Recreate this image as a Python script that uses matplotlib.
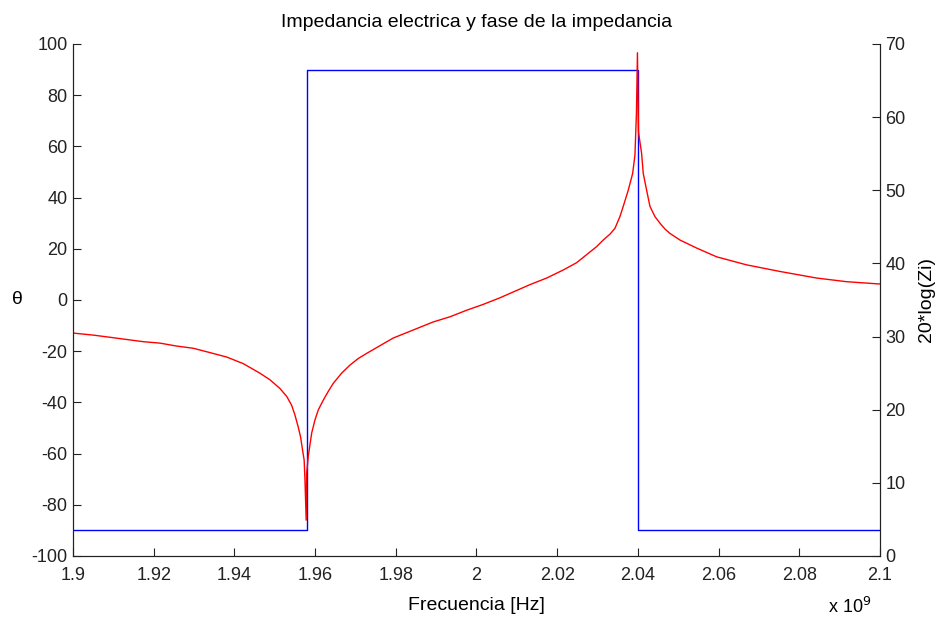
import matplotlib.pyplot as plt
import matplotlib.ticker as mticker

# frequency in units of 1e9 Hz, magnitude in dB
freq_ghz = [1.9000, 1.9005, 1.9050, 1.9092, 1.9133, 1.9174, 1.9216, 1.9257,
            1.9298, 1.9340, 1.9381, 1.9422, 1.9463, 1.9488, 1.9513, 1.9530,
            1.9542, 1.9550, 1.9558, 1.9564, 1.9569, 1.9573, 1.9575, 1.9578,
            1.95792, 1.95831, 1.95916, 1.95998, 1.96079, 1.96203, 1.96327,
            1.96451, 1.96659, 1.96865, 1.97071, 1.97279, 1.97608, 1.97938,
            1.98434, 1.98930, 1.99343, 1.99757, 2.00169, 2.00583, 2.01326,
            2.01740, 2.02151, 2.02483, 2.02731, 2.02979, 2.03143, 2.03309,
            2.03433, 2.03556, 2.03638, 2.03762, 2.03871, 2.03928, 2.03965,
            2.03990, 2.04015, 2.04094, 2.04134, 2.04218, 2.04300, 2.04424,
            2.04548, 2.04672, 2.04796, 2.05043, 2.05457, 2.05953, 2.06697,
            2.07522, 2.08431, 2.09175, 2.09958, 2.1000]
mag_db = [30.5, 30.45, 30.2, 29.9, 29.6, 29.3, 29.1, 28.7,
          28.4, 27.8, 27.2, 26.3, 25.0, 24.1, 22.9, 21.8,
          20.6, 19.3, 17.7, 16.3, 14.5, 13.1, 10.4, 4.9,
          11.3, 13.6, 16.8, 18.6, 19.96, 21.3, 22.5,
          23.6, 25.0, 26.1, 27.0, 27.7, 28.75, 29.8,
          30.9, 32.0, 32.7, 33.6, 34.4, 35.3, 37.1,
          38.0, 39.1, 40.1, 41.2, 42.3, 43.2, 44.0,
          44.8, 46.4, 47.8, 50.0, 52.3, 54.8, 60.5,
          68.8, 58.0, 55.0, 52.3, 50.0, 47.8, 46.4,
          45.5, 44.7, 44.1, 43.2, 42.1, 40.9, 39.8,
          38.9, 38.0, 37.5, 37.2, 37.2]

phase_f = [1.9, 1.958, 1.958, 2.04, 2.04, 2.1]
phase_deg = [-90, -90, 90, 90, -90, -90]

left_ticks = [-100, -80, -60, -40, -20, 0, 20, 40, 60, 80, 100]
right_ticks = [0, 10, 20, 30, 40, 50, 60, 70]
x_ticks = [1.9, 1.92, 1.94, 1.96, 1.98, 2.0, 2.02, 2.04, 2.06, 2.08, 2.1]

plt.rcParams['font.family'] = 'Liberation Sans'
plt.rcParams['font.size'] = 13
plt.rcParams['axes.unicode_minus'] = False

fig = plt.figure(figsize=(9.39, 6.17), dpi=100)
ax1 = fig.add_axes([0.0777, 0.0989, 0.8594, 0.8298])
ax2 = ax1.twinx()

ax1.plot(phase_f, phase_deg, color='#0000ff', linewidth=1.0)
ax2.plot(freq_ghz, mag_db, color='#ff0000', linewidth=1.0)

ax1.set_xlim(1.9, 2.1)
ax1.set_ylim(-100, 100)
ax2.set_ylim(0, 70)
ax1.set_xticks(x_ticks)
ax1.xaxis.set_major_formatter(mticker.FuncFormatter(lambda v, p: '%g' % round(v, 3)))
ax1.set_yticks(left_ticks)
ax2.set_yticks(right_ticks)

for ax in (ax1, ax2):
    ax.spines['top'].set_visible(False)
    ax.tick_params(direction='in', length=6, width=0.8, colors='#222222', labelsize=13)
    for s in ax.spines.values():
        s.set_color('#222222')
ax1.tick_params(axis='x', pad=8)
ax1.tick_params(axis='y', pad=4)
ax2.tick_params(axis='y', pad=4)

ax1.set_title('Impedancia electrica y fase de la impedancia', fontsize=14, pad=12)
ax1.set_xlabel('Frecuencia [Hz]', fontsize=14, labelpad=9)
ax1.set_ylabel('θ', fontsize=14, rotation=0, labelpad=10, va='center')
ax2.set_ylabel('20*log(Zi)', fontsize=14, labelpad=9)
fig.text(0.882, 0.006, r'x 10$^9$', fontsize=13, va='baseline')

fig.savefig('out.png', dpi=100)
